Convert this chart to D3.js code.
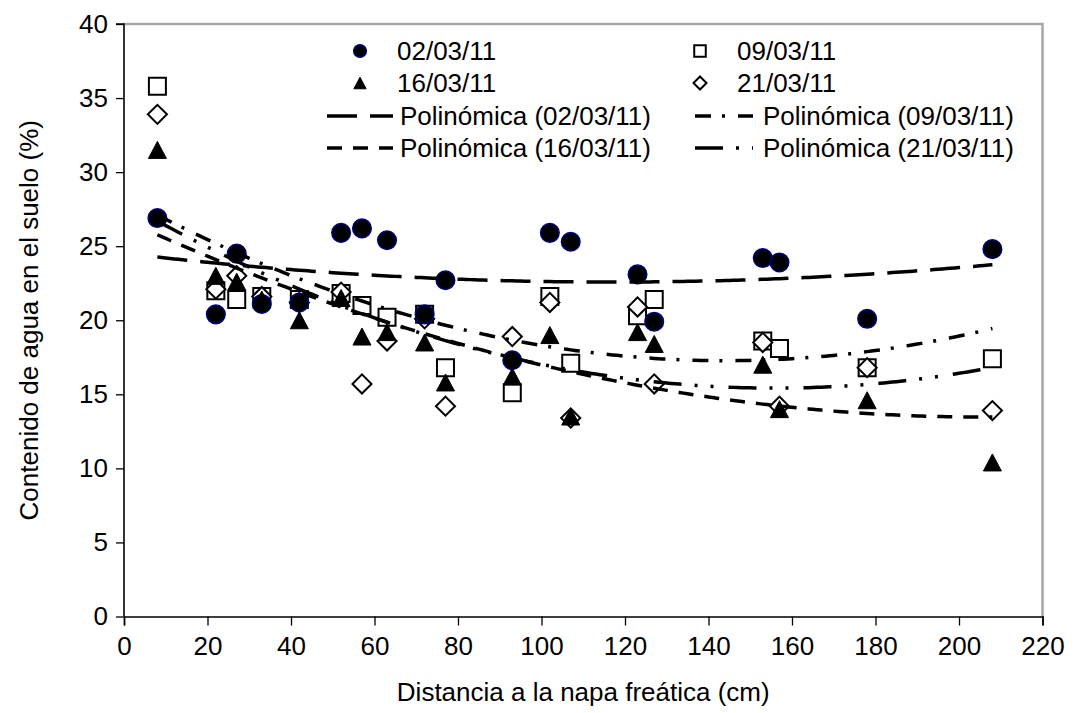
<!DOCTYPE html>
<html>
<head>
<meta charset="utf-8">
<script src="https://cdn.jsdelivr.net/npm/d3@7"></script>
<style>
  body { margin: 0; background: #fff; }
  text { font-family: "Liberation Sans", Arial, sans-serif; fill: #000; }
</style>
</head>
<body>
<svg id="chart" width="1077" height="713"></svg>
<script>
// Data
var distancias = [8, 22, 27, 33, 42, 52, 57, 63, 72, 77, 93, 102, 107, 123, 127, 153, 157, 178, 208];
var agua0203 = [26.9, 20.4, 24.5, 21.1, 21.2, 25.9, 26.2, 25.4, 20.4, 22.7, 17.3, 25.9, 25.3, 23.1, 19.9, 24.2, 23.9, 20.1, 24.8];
var agua0903 = [35.8, 22.0, 21.4, 21.6, 21.4, 21.8, 21.0, 20.2, 20.4, 16.8, 15.1, 21.6, 17.1, 20.3, 21.4, 18.6, 18.1, 16.8, 17.4];
var agua1603 = [31.5, 23.0, 22.6, 21.4, 20.0, 21.5, 18.9, 19.2, 18.5, 15.8, 16.2, 19.0, 13.5, 19.2, 18.4, 17.0, 14.0, 14.6, 10.4];
var agua2103 = [33.9, 22.1, 23.0, 21.6, 21.2, 21.9, 15.7, 18.6, 20.1, 14.2, 18.9, 21.2, 13.4, 20.9, 15.7, 18.5, 14.2, 16.8, 13.9];
var fechas = ['02/03/11', '09/03/11', '16/03/11', '21/03/11'];
var xTicks = [0, 20, 40, 60, 80, 100, 120, 140, 160, 180, 200, 220];
var yTicks = [0, 5, 10, 15, 20, 25, 30, 35, 40];

var svg = d3.select('#chart');
var margin = { top: 24, right: 34.5, bottom: 96.5, left: 124 };
var width = 1077 - margin.left - margin.right;
var height = 713 - margin.top - margin.bottom;
var fontSize = 26;

var g = svg.append('g')
    .attr('transform', `translate(${margin.left},${margin.top})`);

var xScale = d3.scaleLinear().domain([0, 220]).range([0, width]);
var yScale = d3.scaleLinear().domain([0, 40]).range([height, 0]);

// plot area border (gray top / right)
g.append('path')
    .attr('d', `M0,0H${width}V${height}`)
    .attr('fill', 'none')
    .attr('stroke', '#a6a6a6')
    .attr('stroke-width', 2.5);

var yAxis = d3.axisLeft(yScale).tickValues(yTicks).tickSize(8).tickPadding(8);
var xAxis = d3.axisBottom(xScale).tickValues(xTicks).tickSize(9).tickPadding(11);

var yAxisG = g.append('g').call(yAxis);
var xAxisG = g.append('g').attr('transform', `translate(0,${height})`).call(xAxis);

[yAxisG, xAxisG].forEach(function (ax) {
  ax.selectAll('text').attr('font-size', fontSize).attr('font-family', '"Liberation Sans", Arial, sans-serif');
  ax.select('.domain').attr('stroke', '#000').attr('stroke-width', 1.6);
  ax.selectAll('.tick line').attr('stroke', '#000').attr('stroke-width', 1.3);
});
yAxisG.select('.domain').attr('d', `M-8,0H0V${height}`);

// axis titles
svg.append('text')
    .attr('x', margin.left + xScale(110))
    .attr('y', 701)
    .attr('text-anchor', 'middle')
    .attr('font-size', fontSize)
    .text('Distancia a la napa freática (cm)');

svg.append('text')
    .attr('transform', 'translate(38,' + (margin.top + yScale(20)) + ') rotate(-90)')
    .attr('text-anchor', 'middle')
    .attr('font-size', fontSize)
    .text('Contenido de agua en el suelo (%)');

// quadratic least squares fit (Excel "Polinómica" order 2)
function fitQuadratic(xs, ys) {
  var s = [0, 0, 0, 0, 0], t = [0, 0, 0];
  xs.forEach(function (x, i) {
    var p = 1;
    for (var k = 0; k < 5; k++) { s[k] += p; if (k < 3) t[k] += p * ys[i]; p *= x; }
  });
  var m = [[s[0], s[1], s[2], t[0]], [s[1], s[2], s[3], t[1]], [s[2], s[3], s[4], t[2]]];
  for (var c = 0; c < 3; c++) {
    for (var r = c + 1; r < 3; r++) {
      var f = m[r][c] / m[c][c];
      for (var k = c; k < 4; k++) m[r][k] -= f * m[c][k];
    }
  }
  var coef = [0, 0, 0];
  for (var r = 2; r >= 0; r--) {
    var v = m[r][3];
    for (var k = r + 1; k < 3; k++) v -= m[r][k] * coef[k];
    coef[r] = v / m[r][r];
  }
  return function (x) { return coef[0] + coef[1] * x + coef[2] * x * x; };
}

var series = [
  { key: fechas[0], values: agua0203, marker: 'circle', dash: '30,13' },
  { key: fechas[1], values: agua0903, marker: 'square', dash: '16,11,3,13' },
  { key: fechas[2], values: agua1603, marker: 'triangle', dash: '15,11' },
  { key: fechas[3], values: agua2103, marker: 'diamond', dash: '28,13,3,13,3,15' }
];

function drawMarker(sel, type, scale) {
  scale = scale || 1;
  if (type === 'circle') {
    sel.append('circle').attr('r', 9.3 * scale)
      .attr('fill', '#000').attr('stroke', '#000080').attr('stroke-width', 1.5);
  } else if (type === 'square') {
    sel.append('path').attr('d', d3.symbol(d3.symbolSquare, 17 * 17 * scale * scale)())
      .attr('fill', '#fff').attr('stroke', '#000').attr('stroke-width', 2);
  } else if (type === 'triangle') {
    var w = 18 * scale, h = 17 * scale;
    sel.append('path').attr('d', `M0,${-h / 2}L${w / 2},${h / 2}L${-w / 2},${h / 2}Z`)
      .attr('fill', '#000').attr('stroke', '#000').attr('stroke-width', 1);
  } else {
    var a = 13.5 * scale;
    sel.append('path').attr('d', d3.symbol(d3.symbolSquare, a * a)()).attr('transform', 'rotate(45)')
      .attr('fill', '#fff').attr('stroke', '#000').attr('stroke-width', 2);
  }
}

// draw markers (stacking order as in the picture)
var marksG = g.append('g');
[1, 3, 0, 2].forEach(function (si) {
  var s = series[si];
  marksG.append('g').selectAll('g')
    .data(s.values)
    .enter().append('g')
      .attr('transform', function (d, i) { return `translate(${xScale(distancias[i])},${yScale(d)})`; })
      .each(function () { drawMarker(d3.select(this), s.marker); });
});

// trend lines on top
var xMin = d3.min(distancias), xMax = d3.max(distancias);
var xsFit = d3.range(xMin, xMax + 0.5, 1);
var line = d3.line()
    .x(function (d) { return xScale(d[0]); })
    .y(function (d) { return yScale(d[1]); });

series.forEach(function (s) {
  var f = fitQuadratic(distancias, s.values);
  g.append('path')
    .datum(xsFit.map(function (x) { return [x, f(x)]; }))
    .attr('d', line)
    .attr('fill', 'none')
    .attr('stroke', '#000')
    .attr('stroke-width', 3.5)
    .attr('stroke-dasharray', s.dash);
});

// legend
var legend = svg.append('g');
var legendItems = [
  { col: 0, row: 0, kind: 'marker', s: series[0], label: fechas[0] },
  { col: 1, row: 0, kind: 'marker', s: series[1], label: fechas[1] },
  { col: 0, row: 1, kind: 'marker', s: series[2], label: fechas[2] },
  { col: 1, row: 1, kind: 'marker', s: series[3], label: fechas[3] },
  { col: 0, row: 2, kind: 'line', s: series[0], label: 'Polinómica (' + fechas[0] + ')' },
  { col: 1, row: 2, kind: 'line', s: series[1], label: 'Polinómica (' + fechas[1] + ')' },
  { col: 0, row: 3, kind: 'line', s: series[2], label: 'Polinómica (' + fechas[2] + ')' },
  { col: 1, row: 3, kind: 'line', s: series[3], label: 'Polinómica (' + fechas[3] + ')' }
];
var colX = [360, 700];
var rowY = [51, 83, 116, 148];
legendItems.forEach(function (it) {
  var cx = colX[it.col], cy = rowY[it.row];
  var item = legend.append('g').attr('transform', `translate(${cx},${cy})`);
  if (it.kind === 'marker') {
    drawMarker(item, it.s.marker, 0.68);
    item.append('text').attr('x', 37).attr('dy', '0.35em').attr('font-size', fontSize).text(it.label);
  } else {
    var x0 = it.col === 0 ? -33 : -5, x1 = it.col === 0 ? 33 : 53;
    item.append('line').attr('x1', x0).attr('x2', x1)
      .attr('stroke', '#000').attr('stroke-width', 3.5).attr('stroke-dasharray', it.s.dash);
    item.append('text').attr('x', it.col === 0 ? 40 : 63).attr('dy', '0.35em').attr('font-size', fontSize).text(it.label);
  }
});
</script>
</body>
</html>
